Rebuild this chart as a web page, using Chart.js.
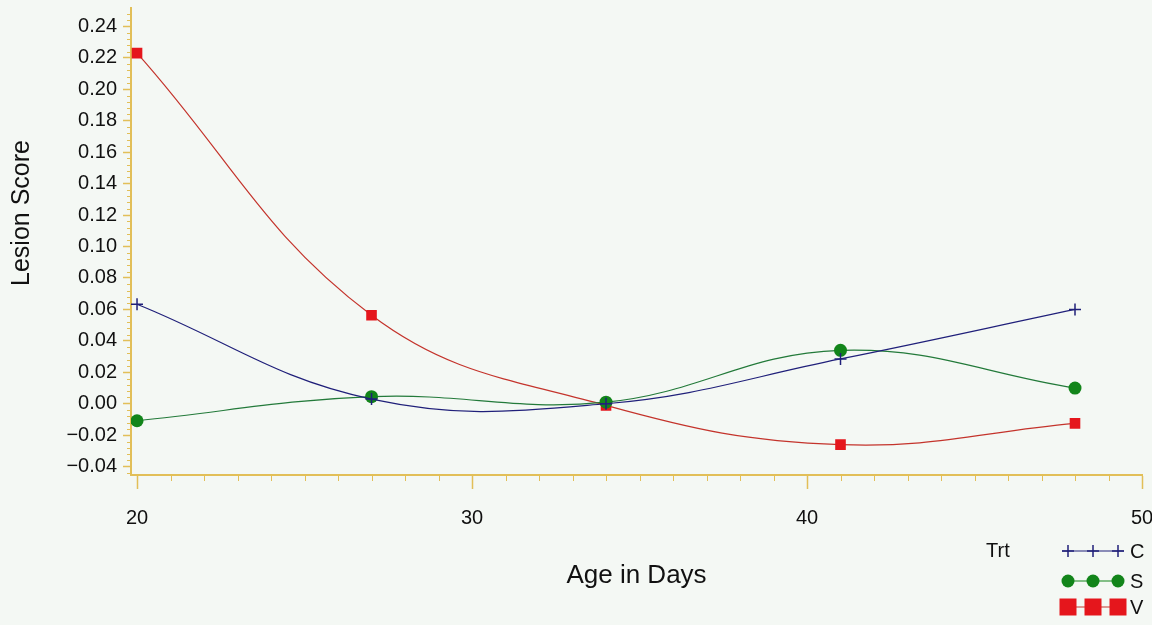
<!DOCTYPE html>
<html>
<head>
<meta charset="utf-8">
<title>Lesion Score by Age</title>
<script src="https://cdn.jsdelivr.net/npm/chart.js@4.4.1/dist/chart.umd.min.js"></script>
<style>
  html, body { margin: 0; padding: 0; background: #f4f8f4; }
  #wrap { width: 1152px; height: 625px; }
</style>
</head>
<body>
<div id="wrap"><canvas id="c" width="1152" height="625"></canvas></div>
<script>
// Age (days) at which each treatment group was scored
const ages = [20, 27, 34, 41, 48];
// Mean lesion score per treatment
const scoreC = [0.0633, 0.0030, 0.0000, 0.0285, 0.0600];
const scoreS = [-0.0108, 0.0045, 0.0010, 0.0340, 0.0100];
const scoreV = [0.2230, 0.0563, -0.0010, -0.0260, -0.0125];
// Labelled axis ticks
const xTickValues = [20, 30, 40, 50];
const yTickValues = [-0.04, -0.02, 0.00, 0.02, 0.04, 0.06, 0.08, 0.10, 0.12, 0.14, 0.16, 0.18, 0.20, 0.22, 0.24];
// Treatment names
const treatments = ['C', 'S', 'V'];
const legendTitle = 'Trt';

const FONT = '"Liberation Sans", Arial, sans-serif';
const AXIS = '#e2bf58';
const INK = '#111111';
const NAVY = '#20207a';
const GREEN = '#12851a';
const RED = '#e5161c';

const toPoints = (vals) => ages.map((a, i) => ({ x: a, y: vals[i] }));

// Background fill for the whole canvas
const backdrop = {
  id: 'backdrop',
  beforeDraw(chart) {
    const { ctx, width, height } = chart;
    ctx.save();
    ctx.fillStyle = '#f4f8f4';
    ctx.fillRect(0, 0, width, height);
    ctx.restore();
  }
};

// Minor tick marks on both axes
const minorTicks = {
  id: 'minorTicks',
  afterDraw(chart) {
    const { ctx, chartArea, scales: { x, y } } = chart;
    ctx.save();
    ctx.strokeStyle = AXIS;
    ctx.lineWidth = 1;
    for (let v = 20; v <= 50; v++) {
      if (v % 10 === 0) continue;
      const px = Math.round(x.getPixelForValue(v)) + 0.5;
      ctx.beginPath();
      ctx.moveTo(px, chartArea.bottom);
      ctx.lineTo(px, chartArea.bottom + 6);
      ctx.stroke();
    }
    for (let i = -11; i <= 62; i++) {
      if (i % 5 === 0) continue;
      const py = Math.round(y.getPixelForValue(i * 0.004)) + 0.5;
      ctx.beginPath();
      ctx.moveTo(chartArea.left - 4, py);
      ctx.lineTo(chartArea.left, py);
      ctx.stroke();
    }
    ctx.restore();
  }
};

function drawMarker(ctx, style, cx, cy, color, size) {
  ctx.save();
  if (style === 'cross') {
    ctx.strokeStyle = color;
    ctx.lineWidth = 1.5;
    ctx.beginPath();
    ctx.moveTo(cx - size, cy); ctx.lineTo(cx + size, cy);
    ctx.moveTo(cx, cy - size); ctx.lineTo(cx, cy + size);
    ctx.stroke();
  } else if (style === 'circle') {
    ctx.fillStyle = color;
    ctx.beginPath();
    ctx.arc(cx, cy, size, 0, Math.PI * 2);
    ctx.fill();
  } else {
    ctx.fillStyle = color;
    ctx.fillRect(cx - size, cy - size, size * 2, size * 2);
  }
  ctx.restore();
}

// Y axis title and treatment key
const annotations = {
  id: 'annotations',
  afterDraw(chart) {
    const { ctx } = chart;
    ctx.save();
    ctx.fillStyle = INK;
    ctx.font = '25px ' + FONT;
    ctx.textAlign = 'center';
    ctx.textBaseline = 'middle';
    ctx.translate(22, 213);
    ctx.rotate(-Math.PI / 2);
    ctx.fillText('Lesion Score', 0, 0);
    ctx.restore();

    ctx.save();
    ctx.fillStyle = INK;
    ctx.font = '20px ' + FONT;
    ctx.textBaseline = 'middle';
    ctx.textAlign = 'left';
    ctx.fillText(legendTitle, 986, 551);
    const rows = [
      { style: 'cross', color: NAVY, line: NAVY, y: 551, size: 6 },
      { style: 'circle', color: GREEN, line: GREEN, y: 581, size: 6.5 },
      { style: 'rect', color: RED, line: '#c4342c', y: 607, size: 8.5 }
    ];
    rows.forEach((r, i) => {
      const xs = [1068, 1093, 1118];
      ctx.strokeStyle = r.line;
      ctx.lineWidth = 1.2;
      ctx.beginPath();
      ctx.moveTo(r.style === 'cross' ? 1062 : xs[0], r.y);
      ctx.lineTo(r.style === 'cross' ? 1124 : xs[2], r.y);
      ctx.stroke();
      xs.forEach(px => drawMarker(ctx, r.style, px, r.y, r.color, r.size));
      ctx.fillStyle = INK;
      ctx.fillText(treatments[i], 1130, r.y + 1);
    });
    ctx.restore();
  }
};

const tickFont = { family: FONT, size: 20 };

new Chart(document.getElementById('c'), {
  type: 'line',
  data: {
    datasets: [
      {
        label: treatments[0], data: toPoints(scoreC),
        borderColor: NAVY, borderWidth: 1.2, tension: 0.4,
        pointStyle: 'cross', pointRadius: 6, pointBorderWidth: 1.5,
        pointBorderColor: NAVY, pointBackgroundColor: NAVY
      },
      {
        label: treatments[1], data: toPoints(scoreS),
        borderColor: '#237a3a', borderWidth: 1.2, tension: 0.4,
        pointStyle: 'circle', pointRadius: 6.5, pointBorderWidth: 0,
        pointBackgroundColor: GREEN
      },
      {
        label: treatments[2], data: toPoints(scoreV),
        borderColor: '#c4342c', borderWidth: 1.2, tension: 0.4,
        pointStyle: 'rect', pointRadius: 7.5, pointBorderWidth: 0,
        pointBackgroundColor: RED
      }
    ]
  },
  options: {
    responsive: false,
    animation: false,
    devicePixelRatio: 1,
    layout: { padding: { top: 4, right: 10, bottom: 0, left: 0 } },
    plugins: { legend: { display: false }, tooltip: { enabled: false } },
    scales: {
      x: {
        type: 'linear',
        min: 19.82, max: 50,
        afterBuildTicks: (s) => { s.ticks = xTickValues.map(v => ({ value: v })); },
        afterFit: (s) => { s.height = 150; s.paddingLeft = 0; s.paddingRight = 0; },
        grid: { drawOnChartArea: false, drawTicks: true, tickLength: 14, tickColor: AXIS, tickWidth: 1.5 },
        border: { display: true, color: AXIS, width: 2 },
        ticks: { font: tickFont, color: INK, padding: 17, maxRotation: 0, autoSkip: false },
        title: {
          display: true, text: 'Age in Days', color: INK,
          font: { family: FONT, size: 26 }, padding: { top: 0, bottom: 34 }
        }
      },
      y: {
        type: 'linear',
        min: -0.0453, max: 0.252,
        afterBuildTicks: (s) => { s.ticks = yTickValues.map(v => ({ value: v })); },
        afterFit: (s) => { s.width = 131; s.paddingTop = 0; s.paddingBottom = 0; },
        grid: { drawOnChartArea: false, drawTicks: true, tickLength: 8, tickColor: AXIS, tickWidth: 1.5 },
        border: { display: true, color: AXIS, width: 2 },
        ticks: {
          font: tickFont, color: INK, padding: 6, autoSkip: false,
          callback: (v) => v.toFixed(2).replace('-', '\u2212')
        }
      }
    }
  },
  plugins: [backdrop, minorTicks, annotations]
});
</script>
</body>
</html>
